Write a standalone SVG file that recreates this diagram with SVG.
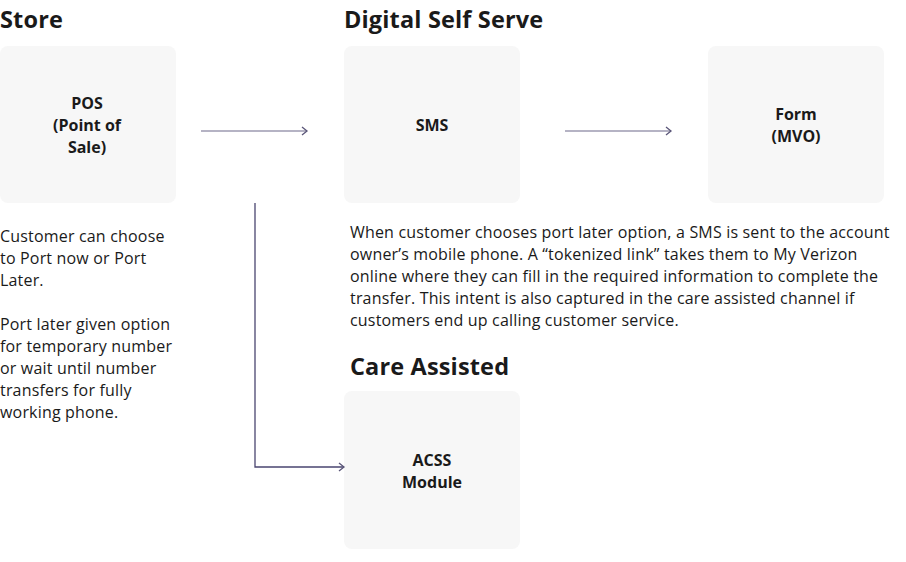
<svg xmlns="http://www.w3.org/2000/svg" width="906" height="562" viewBox="0 0 906 562">
<style>
text{font-family:"Open Sans","Noto Sans",sans-serif;fill:#1a1a1a}
.h{font-size:23.5px;font-weight:700;letter-spacing:0.15px}
.b{font-size:16px;font-weight:700;text-anchor:middle}
.p{font-size:16px;letter-spacing:0.18px}
.box{fill:#f7f7f7}
.c{fill:none;stroke-width:1.3}
</style>
<defs>
<marker id="a" markerWidth="8" markerHeight="10" refX="6" refY="5" orient="auto" markerUnits="userSpaceOnUse">
<path d="M1,1 L6,5 L1,9" fill="none" stroke="#5a5678" stroke-width="1.3"/>
</marker>
</defs>
<rect width="906" height="562" fill="#fff"/>
<text class="h" x="0" y="28">Store</text>
<text class="h" x="344" y="28">Digital Self Serve</text>
<text class="h" x="350" y="375">Care Assisted</text>
<g id="pos"><rect class="box" x="0" y="46" width="176" height="157" rx="8"/>
<text class="b"><tspan x="87" y="109">POS</tspan><tspan x="87" y="131">(Point of</tspan><tspan x="87" y="153">Sale)</tspan></text></g>
<g id="sms"><rect class="box" x="344" y="46" width="176" height="157" rx="8"/>
<text class="b" x="432" y="131">SMS</text></g>
<g id="form"><rect class="box" x="708" y="46" width="176" height="157" rx="8"/>
<text class="b"><tspan x="796" y="120">Form</tspan><tspan x="796" y="142">(MVO)</tspan></text></g>
<g id="acss"><rect class="box" x="344" y="391" width="176" height="158" rx="8"/>
<text class="b"><tspan x="432" y="466">ACSS</tspan><tspan x="432" y="488">Module</tspan></text></g>
<g id="notes">
<text class="p"><tspan x="0" y="242">Customer can choose</tspan><tspan x="0" y="264">to Port now or Port</tspan><tspan x="0" y="286">Later.</tspan><tspan x="0" y="330">Port later given option</tspan><tspan x="0" y="352">for temporary number</tspan><tspan x="0" y="374">or wait until number</tspan><tspan x="0" y="396">transfers for fully</tspan><tspan x="0" y="418">working phone.</tspan></text>
<text class="p"><tspan x="350" y="238">When customer chooses port later option, a SMS is sent to the account</tspan><tspan x="350" y="260">owner’s mobile phone. A “tokenized link” takes them to My Verizon</tspan><tspan x="350" y="282">online where they can fill in the required information to complete the</tspan><tspan x="350" y="304">transfer. This intent is also captured in the care assisted channel if</tspan><tspan x="350" y="326">customers end up calling customer service.</tspan></text>
</g>
<g id="connectors">
<path class="c" d="M201,131 H307" stroke="#9c9ab0" marker-end="url(#a)"/>
<path class="c" d="M565,131 H671" stroke="#9c9ab0" marker-end="url(#a)"/>
<path class="c" d="M255,203 V467 H344" stroke="#4a4570" marker-end="url(#a)"/>
</g>
</svg>
